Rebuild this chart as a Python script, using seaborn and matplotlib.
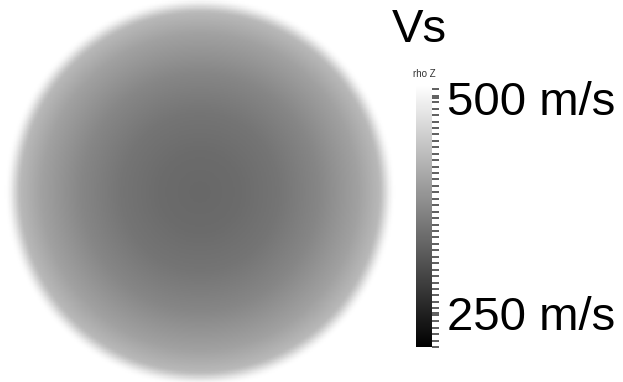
import numpy as np
import pandas as pd
import matplotlib
matplotlib.use("Agg")
import matplotlib.pyplot as plt
from matplotlib.ticker import MultipleLocator, FixedLocator
import seaborn as sns

# Radial shear-wave velocity profile of the sphere (fraction of radius -> Vs, m/s)
radius_frac = [0.0, 0.2, 0.4, 0.6, 0.8, 0.9, 1.0]
vs_profile = [334, 338, 349, 370, 402, 428, 462]

# Colour scale and labelled ticks
vs_min, vs_max = 210, 515
tick_values = [250, 500]
tick_labels = ["250 m/s", "500 m/s"]
title_text = "Vs"
tag_text = "rho Z"

sns.set_theme(style="white")
plt.rcParams["font.family"] = ["Liberation Sans", "DejaVu Sans"]

W, H = 623, 382
fig = plt.figure(figsize=(W / 100, H / 100), dpi=100)
fig.patch.set_facecolor("white")

# Sample the profile on a square grid covering the disk
n = 320
c = (np.arange(n) + 0.5) / n * 2 - 1
xx, yy = np.meshgrid(c, c)
rr = np.sqrt(xx ** 2 + yy ** 2)
field = np.interp(rr, radius_frac, vs_profile)
grid = pd.DataFrame(field)
outside = rr > 1.0

cx, cy, rad = 200, 192, 198
ax = fig.add_axes([(cx - rad) / W, (H - cy - rad) / H, 2 * rad / W, 2 * rad / H])
cax = fig.add_axes([416 / W, (H - 347) / H, 16 / W, 262 / H])

sns.heatmap(grid, mask=outside, cmap="gray", vmin=vs_min, vmax=vs_max,
            xticklabels=False, yticklabels=False, ax=ax, cbar_ax=cax,
            rasterized=True)
ax.set_axis_off()

# Soft rim of the rendered sphere: fades to the background before the mask edge
r0, r1 = 0.90, 0.985
t = np.clip((rr - r0) / (r1 - r0), 0, 1)
rim = np.ones((n, n, 4))
rim[..., 3] = t * t * (3 - 2 * t)
ax.imshow(rim, extent=(0, n, n, 0), zorder=5, interpolation="nearest")
ax.set_xlim(0, n)
ax.set_ylim(n, 0)

# Colour bar styling
cbar = ax.collections[0].colorbar
cbar.outline.set_visible(False)
cax.yaxis.set_major_locator(FixedLocator(tick_values))
cax.set_yticklabels(tick_labels)
cax.yaxis.set_minor_locator(MultipleLocator(7.5))
cax.tick_params(axis="y", which="both", right=True, left=False, length=4.8,
                width=1.1, color="#333333", direction="out")
cax.tick_params(axis="y", which="major", labelsize=34, pad=6,
                labelcolor="black")

fig.text(392 / W, 1 - 30 / H, title_text, fontsize=34, va="center",
         ha="left", color="black")
fig.text(424 / W, 1 - 74 / H, tag_text, fontsize=7, va="center",
         ha="center", color="#333333")

fig.savefig("out.png", dpi=100, facecolor="white")
